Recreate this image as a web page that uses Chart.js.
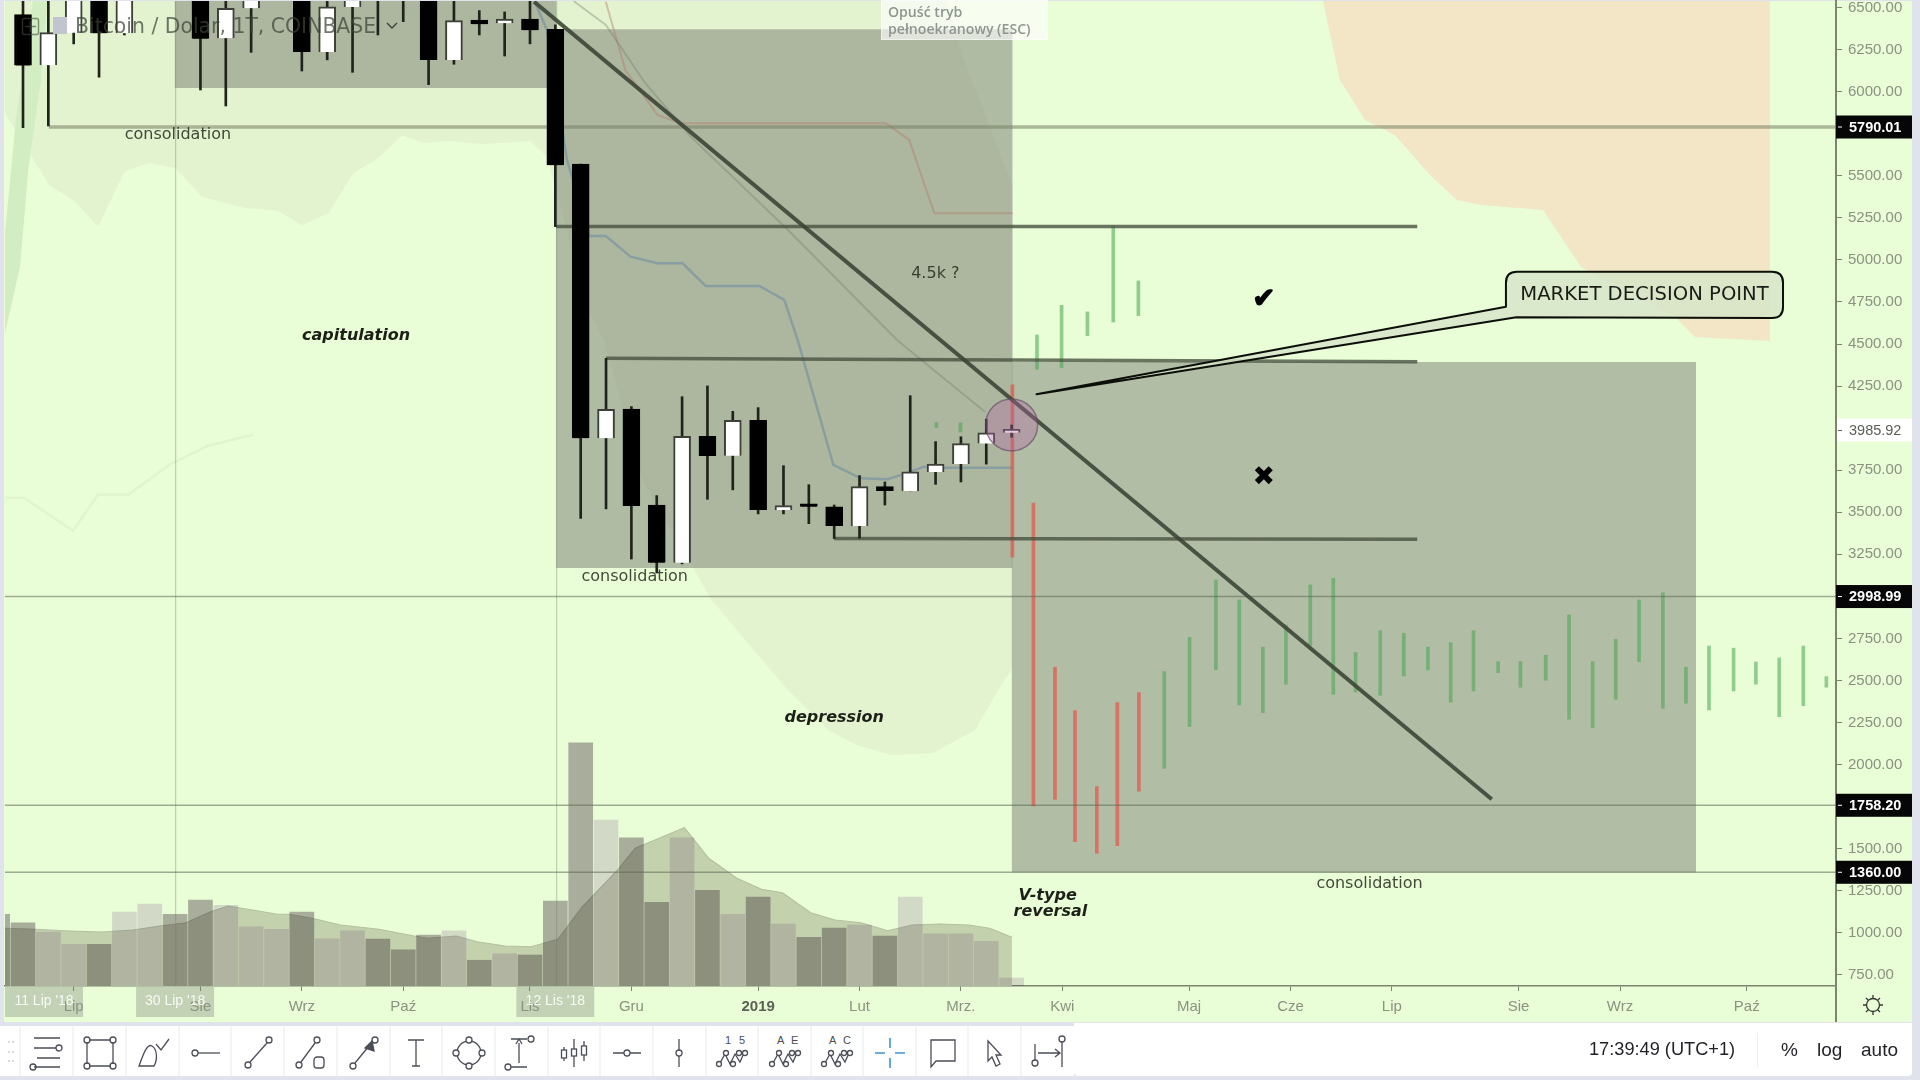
<!DOCTYPE html>
<html><head><meta charset="utf-8">
<script src="https://cdn.jsdelivr.net/npm/chart.js@4"></script>
<style>
html,body{margin:0;padding:0;width:1920px;height:1080px;overflow:hidden;background:#e0e3eb;font-family:"Liberation Sans",Arial,sans-serif}
#wrap{position:absolute;left:0;top:0;width:1920px;height:1080px}
.ov{position:absolute;white-space:nowrap}
#title{left:75px;top:14px;font:20.4px "DejaVu Sans",sans-serif;color:rgba(60,66,56,.72)}
#esc{left:881px;top:0;width:167px;height:40px;background:rgba(255,255,255,.62);border:1px solid rgba(255,255,255,.5);box-sizing:border-box;padding:2px 0 0 6px;font:600 14.1px/17px "Open Sans",sans-serif;color:#8f9590}
.card{position:absolute;background:#fff;top:1026px;height:50px}
.st{position:absolute;top:1039px;font:18.2px "Liberation Sans",sans-serif;color:#1f2126;white-space:nowrap}
svg{position:absolute;overflow:visible}
</style></head><body>
<div id="wrap"><canvas id="c" width="1920" height="1080"></canvas></div>

<svg style="left:0;top:0" width="120" height="50" fill="none">
  <rect x="22.5" y="18.5" width="16" height="16" rx="2" stroke="rgba(70,75,65,.6)" stroke-width="1.4"/>
  <path d="M30.5 21v11M25 26.5h11" stroke="rgba(70,75,65,.6)" stroke-width="1.4"/>
  <rect x="53" y="17" width="14" height="17" fill="#c2c5cf"/>
</svg>
<div class="ov" id="title">Bitcoin / Dolar, 1T, COINBASE</div>
<svg style="left:386px;top:22px" width="12" height="8" fill="none"><path d="M1 1l5 5 5-5" stroke="#3c4238" stroke-width="1.4"/></svg>
<div class="ov" id="esc">Opuść tryb<br>pełnoekranowy (ESC)</div>

<svg style="left:1863px;top:995px" width="20" height="20" fill="none" stroke="#33372f" stroke-width="1.3">
  <circle cx="10" cy="10" r="6.5"/><path d="M10 0v3.5M10 16.5V20M0 10h3.5M16.5 10H20M3 3l2.4 2.4M14.6 14.6L17 17M17 3l-2.4 2.4M5.4 14.6L3 17"/>
</svg>

<div class="card" style="left:0;width:1074px"></div>
<div class="card" style="left:1074px;width:838px;top:1023px;height:53px;border-radius:0 0 4px 4px"></div>
<svg style="left:0;top:1026px" width="1075" height="50" fill="none" stroke="#4b4e57" stroke-width="1.3" font-family="Liberation Sans" font-size="11">
  <g stroke="#edeef1"><path d="M20 0v50M73 0v50M126 0v50M179 0v50M231 0v50M284 0v50M337 0v50M390 0v50M442 0v50M495 0v50M548 0v50M600 0v50M653 0v50M706 0v50M758 0v50M811 0v50M863 0v50M916 0v50M968 0v50M1021 0v50"/></g>
  <g fill="#c9ccd2" stroke="none"><circle cx="9" cy="16" r="1"/><circle cx="13" cy="16" r="1"/><circle cx="9" cy="26" r="1"/><circle cx="13" cy="26" r="1"/><circle cx="9" cy="35" r="1"/><circle cx="13" cy="35" r="1"/></g>
  <g transform="translate(46,27)"><path d="M-12-15h26M-12-5h22M-9 5H14M-12 14h26"/><circle cx="13" cy="-5" r="3"/><circle cx="-13" cy="14" r="3"/></g>
  <g transform="translate(100,27)"><path d="M-11-13h22M-11 13h22M-13-11v22M13-11v22"/><circle cx="-13" cy="-13" r="3"/><circle cx="13" cy="-13" r="3"/><circle cx="-13" cy="13" r="3"/><circle cx="13" cy="13" r="3"/></g>
  <g transform="translate(154,27)"><path d="M-15 13H0C4 6 3-4-2-7-7-10-11 2-15 13ZM2-9L7-3 15-14"/></g>
  <g transform="translate(206,27)"><circle cx="-11" cy="0" r="3"/><path d="M-8 0H14"/></g>
  <g transform="translate(258,27)"><circle cx="-10" cy="12" r="3"/><circle cx="11" cy="-13" r="3"/><path d="M-8 9L9-10"/></g>
  <g transform="translate(311,27)"><circle cx="-12" cy="12" r="3"/><circle cx="6" cy="-13" r="3"/><path d="M-10 9L4-10"/><rect x="3" y="4" width="10" height="11" rx="3"/></g>
  <g transform="translate(364,27)"><circle cx="-11" cy="13" r="3"/><circle cx="11" cy="-13" r="3"/><path d="M-9 10L5-7"/><path d="M8-12l2 10-9-3z" fill="#4b4e57"/></g>
  <g transform="translate(416,27)"><path d="M-8-13H8M0-13V13M-4 13H4"/></g>
  <g transform="translate(469,27)"><circle cx="0" cy="0" r="12"/><circle cx="0" cy="-13" r="3" fill="#fff"/><circle cx="0" cy="13" r="3" fill="#fff"/><circle cx="-13" cy="0" r="3" fill="#fff"/><circle cx="13" cy="0" r="3" fill="#fff"/></g>
  <g transform="translate(521,27)"><path d="M-10-14H6M-10 14H6M-2-10V10M-5-9l3-5 3 5"/><circle cx="10" cy="-14" r="3"/><circle cx="-13" cy="14" r="3"/></g>
  <g transform="translate(574,27)"><path d="M-10-6V8M0-14V14M10-12V8"/><rect x="-12.5" y="-3" width="5" height="8" fill="#fff"/><rect x="-2.5" y="-4" width="5" height="7" fill="#fff"/><rect x="7.5" y="-7" width="5" height="9" fill="#fff"/></g>
  <g transform="translate(627,27)"><path d="M-14 0H-3M3 0H14"/><circle cx="0" cy="0" r="3"/></g>
  <g transform="translate(679,27)"><path d="M0-14V-3M0 3V14"/><circle cx="0" cy="0" r="3"/></g>
  <g transform="translate(732,27)"><path d="M-12 10L-7 1-2 11 3 1 8 9 12 0"/><circle cx="-13" cy="11" r="2.5" fill="#fff"/><circle cx="-6" cy="0" r="2.5" fill="#fff"/><circle cx="1" cy="11" r="2.5" fill="#fff"/><circle cx="7" cy="0" r="2.5" fill="#fff"/><circle cx="13" cy="0" r="2.5" fill="#fff"/><text x="-7" y="-9" fill="#4b4e57" stroke="none">1</text><text x="7" y="-9" fill="#4b4e57" stroke="none">5</text></g>
  <g transform="translate(785,27)"><path d="M-12 10L-7 1-2 11 3 1 8 9 12 0"/><circle cx="-13" cy="11" r="2.5" fill="#fff"/><circle cx="-6" cy="0" r="2.5" fill="#fff"/><circle cx="1" cy="11" r="2.5" fill="#fff"/><circle cx="7" cy="0" r="2.5" fill="#fff"/><circle cx="13" cy="0" r="2.5" fill="#fff"/><text x="-8" y="-9" fill="#4b4e57" stroke="none">A</text><text x="6" y="-9" fill="#4b4e57" stroke="none">E</text></g>
  <g transform="translate(837,27)"><path d="M-12 10L-7 1-2 11 3 1 8 9 12 0"/><circle cx="-13" cy="11" r="2.5" fill="#fff"/><circle cx="-6" cy="0" r="2.5" fill="#fff"/><circle cx="1" cy="11" r="2.5" fill="#fff"/><circle cx="7" cy="0" r="2.5" fill="#fff"/><circle cx="13" cy="0" r="2.5" fill="#fff"/><text x="-8" y="-9" fill="#4b4e57" stroke="none">A</text><text x="6" y="-9" fill="#4b4e57" stroke="none">C</text></g>
  <g transform="translate(890,27)" stroke="#3f93d8" stroke-width="1.6"><path d="M-15 0H-5M5 0H15M0-15V-5M0 5V15"/></g>
  <g transform="translate(943,27)"><path d="M-12-13H12V8H-7L-12 14Z"/></g>
  <g transform="translate(994,27)"><path d="M-6-12L7 2H2L6 11 2 13-2 4-6 8Z"/></g>
  <g transform="translate(1048,27)"><path d="M14-14V14M-10 0H12M7-4L12 0 7 4"/><circle cx="-13" cy="10" r="3"/><path d="M-13 7V-9"/><circle cx="14" cy="-14" r="3" fill="#fff"/></g>
</svg>
<div class="st" style="left:1589px">17:39:49 (UTC+1)</div>
<div style="position:absolute;left:1757px;top:1033px;width:1px;height:34px;background:#eceef1"></div>
<div class="st" style="left:1781px;font-size:19px">%</div>
<div class="st" style="left:1817px;font-size:19px">log</div>
<div class="st" style="left:1861px;font-size:19px">auto</div>

<script>
// ---- weekly candles (index 0 = first visible week) ----
const candleOpen =[6458,6157,6351,6620,6347,6620,6700,6600,6318,6496,6640,6700,6236,6504,6620,6560,6560,6189,6426,6407,6432,6371,5569,3940,4114,3543,3200,3952,3836,4047,3514,3542,3533,3419,3652,3627,3740,3787,3908,3973];
const candleHigh =[6600,6560,6700,6680,6700,6750,6760,6650,6600,6700,6780,6720,6600,6700,6700,6620,6600,6600,6482,6474,6560,6397,5569,4415,4128,3599,4187,4251,4100,4122,3777,3664,3543,3718,3680,4193,3920,3949,4053,4019];
const candleLow  =[5786,5796,6284,6086,6337,6560,6550,6010,5915,6234,6560,6123,6189,6115,6337,6416,6042,6163,6337,6212,6284,5198,3464,3520,3222,3139,3193,3577,3633,3490,3490,3432,3344,3346,3543,3627,3666,3680,3786,3946];
const candleClose=[6155,6351,6620,6347,6620,6700,6600,6315,6496,6640,6700,6236,6505,6620,6560,6545,6189,6422,6403,6432,6365,5563,3940,4112,3537,3200,3952,3835,4047,3514,3539,3532,3419,3652,3627,3740,3787,3908,3972,3993];
const candleIndex=candleOpen.map((_,i)=>i);

// ---- volume pane (arbitrary units) ----
const volumeIndex=[-1,...candleIndex];
const volumeValues=[28.7,25.3,21.6,16.7,16.7,29.6,32.8,28.7,34.4,32.3,23.7,22.7,29.6,18.9,22.1,18.8,14.5,20.4,22.1,10.3,12.9,12.4,34,97.3,66.4,59.3,33.5,59.3,38.3,28.7,35.6,24.8,19.5,23.2,24.4,20,35.6,20.9,20.9,17.9,3.2];
const volumeMAx=[-0.71,0.48,1.86,3.11,4.35,5.46,6.43,7.4,8.09,9.06,10.03,10.5,11.41,12.52,14.04,15.43,15.98,17.09,17.92,19.02,20.05,21.1,22.07,23.46,24.15,26.09,27.05,28.16,29.13,29.96,31.07,32.04,33.06,34.11,35.08,36.19,37.3,38.13,39.01];
const volumeMAy=[23.1,22.7,22,21.6,22.4,24.1,25.3,29.7,32,30.4,28.7,28.7,27.1,24.4,22.7,20,19.1,20,17.7,16,15.7,18.7,31.7,46.4,55.1,63.3,51.1,43.1,38.7,37.3,29.3,26.4,25.3,22.1,24.4,24.8,24.4,23.1,19.5];

// ---- hand-drawn projection bars ----
const greenEarlyX=[36.03,36.98,40,40.97,41.99,43.01,44];
const greenEarlyLow=[4003,3977,4350,4360,4550,4631,4669];
const greenEarlyHigh=[4033,4031,4554,4730,4691,5202,4875];
const redX=[39.03,39.86,40.71,41.5,42.36,43.17,44.02];
const redLow=[3233,1754,1794,1542,1473,1518,1842];
const redHigh=[4257,3554,2579,2321,1869,2368,2428];
const greenX=[45.02,46.02,47.06,47.98,48.91,49.82,50.78,51.69,52.57,53.54,54.47,55.42,56.32,57.22,58.19,59.07,60.07,60.99,61.92,62.83,63.75,64.69,65.6,66.51,67.48,68.36,69.28,70.23,71.14];
const greenLow=[1978,2226,2563,2355,2309,2478,2705,2418,2432,2412,2527,2563,2371,2438,2547,2460,2501,2270,2220,2388,2612,2335,2365,2325,2438,2478,2285,2350,2460];
const greenHigh=[2553,2757,3098,2979,2698,2830,3068,3108,2666,2796,2781,2698,2725,2796,2612,2612,2650,2890,2612,2745,2979,3022,2579,2705,2692,2610,2634,2705,2523];

// ---- indicator lines ----
const blueX=[20.19,20.67,21.46,22.35,22.99,23.97,25.03,26.02,26.93,29.05,30.03,30.56,31.97,33.05,34.08,34.66,35.54,36.35,39.01];
const blueY=[6535,6367,5594,5142,5142,5019,4980,4980,4845,4845,4762,4524,3781,3702,3696,3722,3771,3765,3765];
const redLineX=[22.99,23.76,25.03,25.94,34.04,34.96,35.95,39.05];
const redLineY=[6535,6129,5862,5812,5812,5713,5277,5277];
const greyLineX=[21.72,22.99,24.54,26.35,30.18,34.48,37.95];
const greyLineY=[6539,6397,6052,5731,5178,4524,4096];
const paleLineX=[-0.67,0.04,1.97,2.96,4.14,5.84,7.3,9.07];
const paleLineY=[3586,3586,3390,3604,3604,3788,3895,3961];

// ---- clouds ----
const cloudUpperX=[-0.71,36.37,37.08,39.05];
const cloudUpperY=[6600,6600,6206,5434];
const cloudLowerX=[-0.71,1.03,1.99,2.96,4,4.97,6.02,7.06,8.76,10.04,11.01,12.06,13.02,13.91,14.95,15.84,16.8,18.09,20.02,20.67,22.28,22.91,24.43,27.17,30.02,31.76,32.9,34.24,35.9,37.55,38.54,39.05];
const cloudLowerY=[5874,5446,5356,5198,5525,5576,5547,5376,5309,5293,5208,5279,5517,5594,5739,5695,5707,5689,5707,5614,4703,4524,3692,2979,2469,2206,2117,2057,2069,2206,2462,2575];
const stripUpperX=[-0.71,-0.28,0.39,0.95];
const stripUpperY=[5160,5832,6539,6539];
const stripLowerX=[-0.71,-0.12,0.22,0.71,0.95];
const stripLowerY=[4566,4958,5553,6070,6539];
const peachX=[51.28,51.95,52.94,54.12,55.5,56.57,57.51,59.96,61.46,63.98,65.17,65.96,68.92];
const peachY=[6539,6070,5832,5743,5505,5356,5327,5297,4958,4762,4661,4542,4518];

// ---- drawn zones: [x from, x to, price top, price bottom] ----
const zoneTopLeft=[5.98,21.03,6600,6022];
const zoneCapitulation=[21.03,39.04,6371,3169];
const zoneConsolidation=[39,66,4393,1360];

// ---- drawn lines ----
const trendLine=[[20.16,6535],[57.94,1794]];
const levelSupport=[[1.02,5790.01],[71.52,5790.01]];
const level5200=[[21.03,5198],[55,5198]];
const level4400=[[23,4415],[55,4395]];
const level3340=[[32,3344],[55,3340]];
const level2999=[[-0.71,2998.99],[71.52,2998.99]];
const level1758=[[-0.71,1758.2],[71.52,1758.2]];
const level1360=[[-0.71,1360],[71.52,1360]];
const dateLines=[6.02,21.05];

// ---- axes ----
const xTickValues=[2,7,11,15,20,24,29,33,37,41,46,50,54,59,63,68];
const xTickLabels=['Lip','Sie','Wrz','Paź','Lis','Gru','2019','Lut','Mrz.','Kwi','Maj','Cze','Lip','Sie','Wrz','Paź'];
const yTickValues=[750,1000,1250,1500,1750,2000,2250,2500,2750,3000,3250,3500,3750,4000,4250,4500,4750,5000,5250,5500,5750,6000,6250,6500];
const priceBadges=[[5790.01,'5790.01'],[2998.99,'2998.99'],[1758.2,'1758.20'],[1360,'1360.00']];
const lastPrice=[3985.92,'3985.92'];
const dateBadges=[[0.83,"11 Lip '18"],[6.0,"30 Lip '18"],[21.0,"12 Lis '18"]];

// ---- annotations: [x, price, text] ----
const plainNotes=[[6.11,5750,'consolidation'],[24.13,3127,'consolidation'],[53.12,1303,'consolidation'],[35.99,4927,'4.5k ?']];
const boldNotes=[[13.14,4556,'capitulation'],[32,2289,'depression'],[40.42,1229,'V-type'],[40.53,1136,'reversal']];
const markNotes=[[48.95,4768,'✔'],[48.95,3710,'✖']];
const markerPoint=[39,4019];
const calloutText='MARKET DECISION POINT';
const calloutBox=[58.5,69.43,4930,4655];
const calloutTip=[39.98,4202];
const calloutBase=[[58.5,4722],[58.91,4659]];

const pts=(xs,ys)=>xs.map((x,i)=>({x,y:ys[i]}));
const pair=a=>a.map(p=>({x:p[0],y:p[1]}));
const isUp=i=>candleClose[i]>=candleOpen[i];
const line=(data,color,width,order,extra={})=>Object.assign({type:'line',data,borderColor:color,borderWidth:width,pointRadius:0,tension:0,fill:false,order,yAxisID:'y'},extra);
const zone=(z,color,order)=>({type:'line',data:[{x:z[0],y:z[2]},{x:z[1],y:z[2]}],borderWidth:0,pointRadius:0,backgroundColor:color,fill:{value:z[3]},order,yAxisID:'y'});
const floatBars=(xs,lo,hi,color,thick,order)=>({type:'bar',data:xs.map((x,i)=>({x,y:[lo[i],hi[i]]})),backgroundColor:color,barThickness:thick,grouped:false,order,yAxisID:'y'});
const LV='rgba(70,78,62,.78)';const HL='rgba(95,103,85,.55)';

const datasets=[
 line(pts(cloudUpperX,cloudUpperY),'transparent',0,100,{fill:'+1',backgroundColor:'#e3f2cf'}),
 line(pts(cloudLowerX,cloudLowerY),'transparent',0,100),
 line(pts(stripUpperX,stripUpperY),'transparent',0,99,{fill:'+1',backgroundColor:'#d2edc2'}),
 line(pts(stripLowerX,stripLowerY),'transparent',0,99),
 line(pts(peachX,peachY),'transparent',0,98,{fill:{value:6600},backgroundColor:'#f2e6c7'}),
 line(pts(paleLineX,paleLineY),'#e2f4cd',2.5,97),
 line(pts(volumeMAx,volumeMAy),'#b4c0a2',1.2,80,{yAxisID:'yVol',fill:'origin',backgroundColor:'#c3d1ad'}),
 {type:'bar',data:volumeIndex.map((x,i)=>({x,y:volumeValues[i]})),yAxisID:'yVol',barThickness:24,grouped:false,order:79,multiply:true,
  backgroundColor:volumeIndex.map(x=>(x<0||!isUp(x))?'rgb(184,176,184)':'rgb(230,220,236)')},
 zone(zoneTopLeft,'rgba(137,144,127,.6)',70),
 zone(zoneCapitulation,'rgba(137,144,127,.6)',70),
 zone(zoneConsolidation,'rgba(140,147,132,.6)',70),
 line(pts(blueX,blueY),'rgba(105,138,160,.55)',2.5,60),
 line(pts(redLineX,redLineY),'rgba(180,115,100,.4)',2,60),
 line(pts(greyLineX,greyLineY),'rgba(115,120,105,.35)',2,60),
 ...dateLines.map(x=>line([{x,y:684},{x,y:6600}],'rgba(110,125,95,.35)',1.2,59)),
 floatBars(greenEarlyX,greenEarlyLow,greenEarlyHigh,'rgba(70,165,80,.55)',3,50),
 floatBars(redX,redLow,redHigh,'rgba(235,70,60,.62)',3,50),
 floatBars(greenX,greenLow,greenHigh,'rgba(70,165,80,.55)',3,50),
 line(pair(levelSupport),'rgba(120,130,100,.55)',3.5,40),
 line(pair(level5200),LV,3.5,40),
 line(pair(level4400),LV,3.5,40),
 line(pair(level3340),LV,3.5,40),
 line(pair(level2999),HL,1.5,40),
 line(pair(level1758),HL,1.5,40),
 line(pair(level1360),HL,1.5,40),
 line(pair(trendLine),'rgba(58,66,52,.88)',4,35),
 floatBars(candleIndex,candleLow,candleHigh,'#20231b',2,30),
 {type:'bar',data:candleIndex.map(i=>({x:i,y:[Math.min(candleOpen[i],candleClose[i]),Math.max(candleOpen[i],candleClose[i])]})),
  backgroundColor:candleIndex.map(i=>isUp(i)?'#ffffff':'#000000'),borderColor:candleIndex.map(i=>isUp(i)?'#3d4037':'#000000'),
  borderWidth:2,barThickness:17,grouped:false,minBarLength:3,order:29,yAxisID:'y'},
 {type:'scatter',data:[{x:markerPoint[0],y:markerPoint[1]}],pointRadius:26,backgroundColor:'rgba(175,100,165,.34)',borderColor:'rgba(100,70,100,.65)',borderWidth:1.5,order:20,yAxisID:'y'}
];

const panelBg={id:'panelBg',beforeDraw(c){
 const {ctx,scales:{x},chartArea:A}=c;
 ctx.save();ctx.fillStyle='#e9fdd7';ctx.fillRect(4,1,1908,1021);
 dateBadges.forEach(b=>{const px=x.getPixelForValue(b[0]);const l=Math.max(px-39,A.left);ctx.fillStyle='#c3d2b5';ctx.fillRect(l,A.bottom+1,px+39-l,30);});
 ctx.restore();
}};
const multiplyBars={id:'multiplyBars',
 beforeDatasetDraw(c,a){if(c.data.datasets[a.index].multiply)c.ctx.globalCompositeOperation='multiply';},
 afterDatasetDraw(c,a){if(c.data.datasets[a.index].multiply)c.ctx.globalCompositeOperation='source-over';}};

const notes={id:'notes',afterDraw(c){
 const {ctx,scales:{x,y},chartArea:A}=c;
 ctx.save();ctx.textBaseline='middle';ctx.textAlign='center';
 ctx.font='16px "DejaVu Sans"';ctx.fillStyle='rgba(35,42,28,.85)';
 plainNotes.forEach(n=>ctx.fillText(n[2],x.getPixelForValue(n[0]),y.getPixelForValue(n[1])+1.5));
 ctx.font='italic bold 16px "DejaVu Sans"';ctx.fillStyle='#1d2018';
 boldNotes.forEach(n=>ctx.fillText(n[2],x.getPixelForValue(n[0]),y.getPixelForValue(n[1])+1.5));
 ctx.font='27px "DejaVu Sans"';ctx.fillStyle='#000';ctx.strokeStyle='#000';ctx.lineWidth=1.6;ctx.lineJoin='round';
 markNotes.forEach(n=>{const mx=x.getPixelForValue(n[0]),my=y.getPixelForValue(n[1])+1.5;ctx.fillText(n[2],mx,my);if(n[2]==='✔')ctx.strokeText(n[2],mx,my);});
 const bx0=x.getPixelForValue(calloutBox[0]),bx1=x.getPixelForValue(calloutBox[1]),by0=y.getPixelForValue(calloutBox[2]),by1=y.getPixelForValue(calloutBox[3]),r=11;
 const tx=x.getPixelForValue(calloutTip[0]),ty=y.getPixelForValue(calloutTip[1]);
 const b0x=x.getPixelForValue(calloutBase[0][0]),b0y=y.getPixelForValue(calloutBase[0][1]),b1x=x.getPixelForValue(calloutBase[1][0]),b1y=y.getPixelForValue(calloutBase[1][1]);
 ctx.beginPath();ctx.moveTo(bx0+r,by0);ctx.lineTo(bx1-r,by0);ctx.quadraticCurveTo(bx1,by0,bx1,by0+r);ctx.lineTo(bx1,by1-r);ctx.quadraticCurveTo(bx1,by1,bx1-r,by1);
 ctx.lineTo(b1x,b1y);ctx.lineTo(tx,ty);ctx.lineTo(b0x,b0y);ctx.lineTo(bx0,by0+r);ctx.quadraticCurveTo(bx0,by0,bx0+r,by0);ctx.closePath();
 ctx.fillStyle='rgba(215,228,200,.86)';ctx.fill();ctx.strokeStyle='#0c0e0a';ctx.lineWidth=2;ctx.stroke();
 ctx.fillStyle='#1a1c16';ctx.font='19.6px "DejaVu Sans"';ctx.fillText(calloutText,(bx0+bx1)/2,(by0+by1)/2);
 ctx.strokeStyle='#7b8570';ctx.lineWidth=2;ctx.beginPath();ctx.moveTo(A.right,A.bottom);ctx.lineTo(A.right,1022);ctx.stroke();
 ctx.textAlign='left';ctx.font='bold 14.5px "Liberation Sans"';
 priceBadges.forEach(b=>{const py=y.getPixelForValue(b[0]);ctx.fillStyle='#060606';ctx.fillRect(A.right,py-11.5,76,23);ctx.fillStyle='#fff';ctx.fillRect(A.right+2,py-.5,4,1);ctx.fillText(b[1],A.right+13,py+.5);});
 const ly=y.getPixelForValue(lastPrice[0]);ctx.fillStyle='#fff';ctx.fillRect(A.right+1,ly-12,75,23);ctx.fillStyle='#5a5f55';ctx.fillRect(A.right+2,ly-.5,4,1);ctx.font='14.5px "Liberation Sans"';ctx.fillText(lastPrice[1],A.right+13,ly);
 ctx.textAlign='center';ctx.font='14px "Liberation Sans"';ctx.fillStyle='rgba(255,255,255,.88)';
 dateBadges.forEach(b=>ctx.fillText(b[1],x.getPixelForValue(b[0]),A.bottom+15));
 ctx.restore();
}};

new Chart(document.getElementById('c'),{
 type:'bar',
 data:{datasets},
 plugins:[panelBg,multiplyBars,notes],
 options:{responsive:false,devicePixelRatio:1,animation:false,
  layout:{autoPadding:false,padding:{left:5,right:8,top:1,bottom:57}},
  plugins:{legend:{display:false},tooltip:{enabled:false},title:{display:false}},
  scales:{
   x:{type:'linear',min:-0.71,max:71.52,offset:false,
     grid:{offset:false,display:true,drawOnChartArea:false,tickLength:5,color:'#7b8570'},border:{color:'#7b8570',width:1.5},
     afterBuildTicks:a=>{a.ticks=xTickValues.map(value=>({value}));},
     afterFit:a=>{a.height=37;a.paddingLeft=a.paddingRight=a.paddingTop=a.paddingBottom=0;},
     ticks:{autoSkip:false,maxRotation:0,minRotation:0,padding:7,callback:(v,i)=>xTickLabels[i],
       color:c=>c.tick&&c.tick.value===29?'#5b6155':'#8b9280',
       font:c=>({family:'"Liberation Sans"',size:15,weight:c.tick&&c.tick.value===29?'bold':'normal'})}},
   y:{type:'linear',position:'right',min:684,max:6539,
     grid:{display:true,drawOnChartArea:false,tickLength:6,color:'#7b8570'},border:{color:'#7b8570',width:2},
     afterBuildTicks:a=>{a.ticks=yTickValues.map(value=>({value}));},
     afterFit:a=>{a.width=76;a.paddingLeft=a.paddingRight=a.paddingTop=a.paddingBottom=0;},
     ticks:{autoSkip:false,padding:6,color:'#8b9280',font:{family:'"Liberation Sans"',size:15},callback:v=>v.toFixed(2)}},
   yVol:{type:'linear',display:false,min:0,max:394}
  }
 }
});
</script>
</body></html>
